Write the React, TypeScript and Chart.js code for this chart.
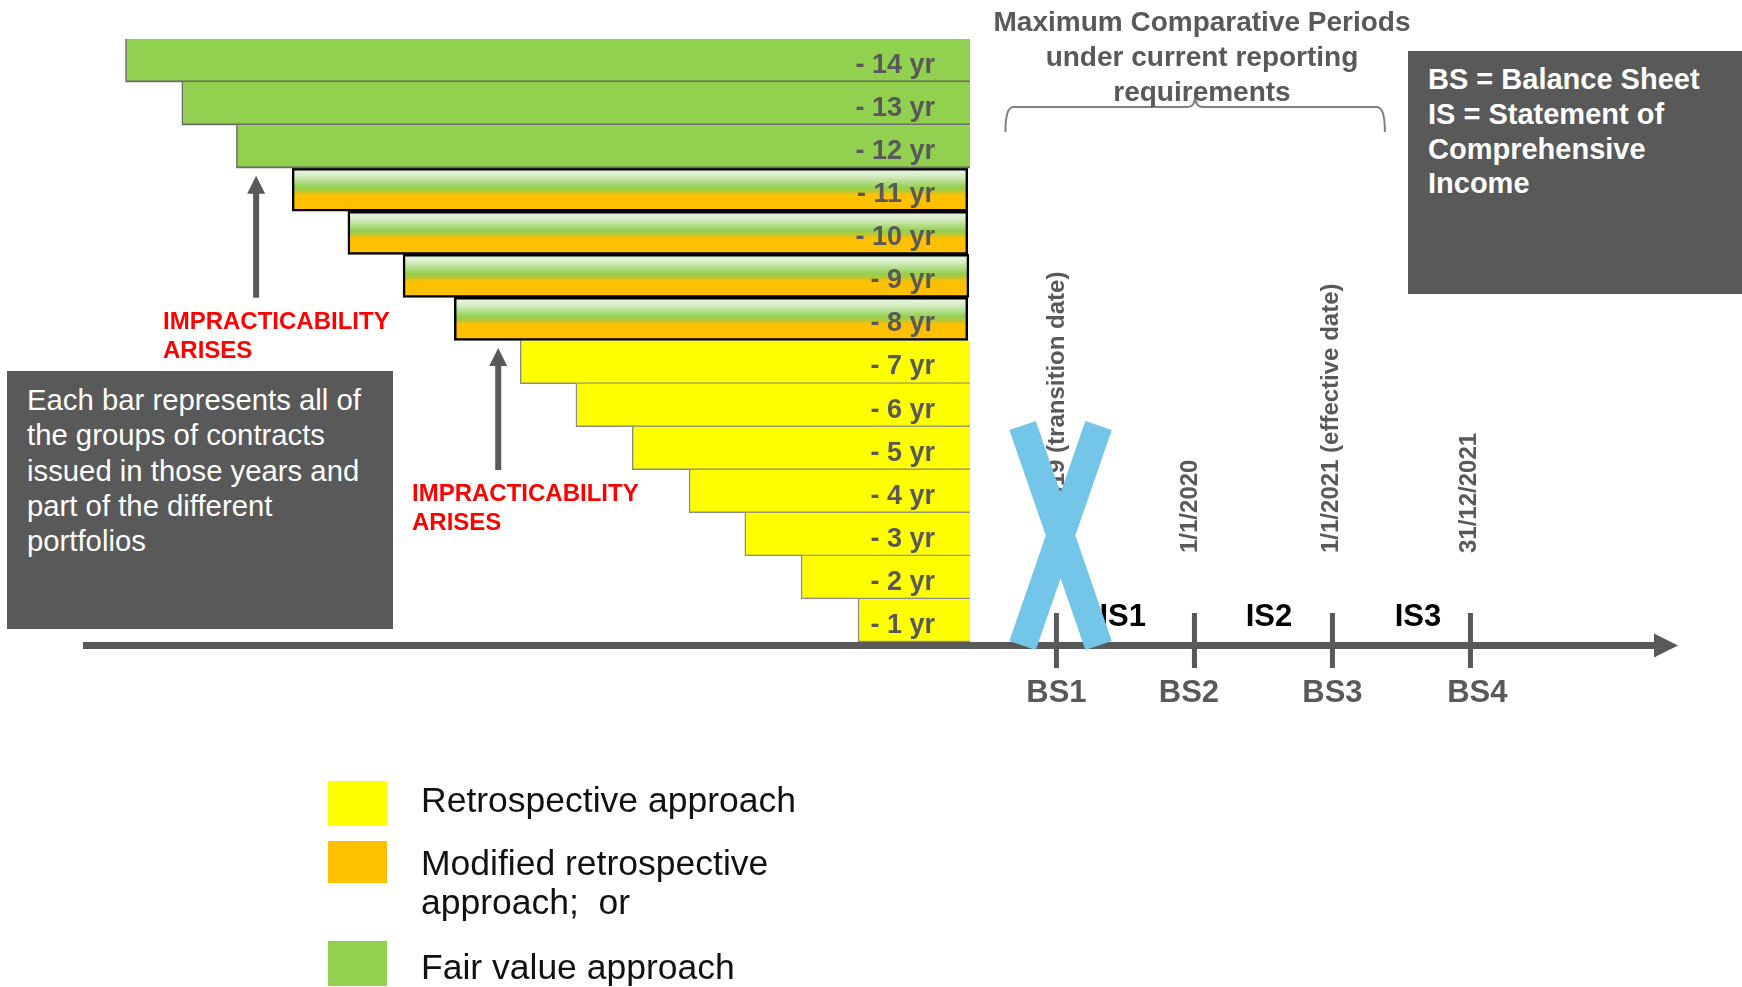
import React, { useEffect, useRef } from "react";
import { Chart, registerables } from "chart.js";

Chart.register(...registerables);

// ---------- data ----------
const categories = ["- 14 yr", "- 13 yr", "- 12 yr", "- 11 yr", "- 10 yr", "- 9 yr", "- 8 yr", "- 7 yr", "- 6 yr", "- 5 yr", "- 4 yr", "- 3 yr", "- 2 yr", "- 1 yr"];
const barStart = [-15.0, -14.0, -13.03, -12.04, -11.05, -10.07, -9.16, -7.99, -7.0, -6.0, -4.99, -4.0, -3.0, -1.99];
const barEnd = [0, 0, 0, -0.04, -0.04, -0.02, -0.04, 0, 0, 0, 0, 0, 0, 0];
const approach = ["fair", "fair", "fair", "mixed", "mixed", "mixed", "mixed", "retro", "retro", "retro", "retro", "retro", "retro", "retro"];

const legendLabels = ["Retrospective approach", "Modified retrospective\napproach;  or", "Fair value approach"];

const balanceSheets = ["BS1", "BS2", "BS3", "BS4"];
const balanceSheetAt = [0, 1, 2, 3];
const balanceSheetLabelAt = [0, 0.96, 2.0, 3.05];
const incomeStatements = ["IS1", "IS2", "IS3"];
const incomeStatementAt = [0.48, 1.54, 2.62];
const dateLabels = ["1/1/2019 (transition date)", "1/1/2020", "1/1/2021 (effective date)", "31/12/2021"];
const dateAt = [0.01, 0.97, 1.99, 2.99];
const crossedOutAt = 0.03;
const braceFrom = -0.37;
const braceTo = 2.38;

const impracticabilityAt = [-12.68, -8.38];
const impracticabilityBelowRow = [2, 6];

// ---------- style ----------
const FONT = '"Liberation Sans", Arial, Helvetica, sans-serif';
const GRAY = "#595959";
const YELLOW = "#ffff00";
const ORANGE = "#ffc000";
const GREEN = "#92d050";
const BLUE = "#73c6e7";

const mixedFill = (ctx: any) => {
  const chart = ctx.chart;
  const area = chart.chartArea;
  if (!area || ctx.type !== "data" || !chart.scales.y) return ORANGE;
  const y = chart.scales.y;
  const h = area.height / categories.length;
  const c = y.getPixelForValue(ctx.dataIndex);
  const g = chart.ctx.createLinearGradient(0, c - h / 2, 0, c + h / 2);
  g.addColorStop(0, "#eef8ec");
  g.addColorStop(0.18, "#d6edc6");
  g.addColorStop(0.45, GREEN);
  g.addColorStop(0.53, "#b8c838");
  g.addColorStop(0.63, ORANGE);
  g.addColorStop(1, ORANGE);
  return g;
};

const seriesData = (kind: string) =>
  categories.map((_, i) => (approach[i] === kind ? [barStart[i], barEnd[i]] : null));

const overlayPlugin = {
  id: "overlay",
  afterDatasetsDraw(chart: any) {
    const { ctx, chartArea } = chart;
    const x = chart.scales.x;
    const y = chart.scales.y;
    const xt = chart.scales.xt;
    const rowH = chartArea.height / categories.length;
    ctx.save();

    // bar labels
    ctx.font = `bold 27px ${FONT}`;
    ctx.fillStyle = GRAY;
    ctx.textAlign = "right";
    ctx.textBaseline = "middle";
    categories.forEach((c, i) => {
      ctx.fillText(c, x.getPixelForValue(-0.62), y.getPixelForValue(i) + 5);
    });

    // impracticability arrows
    ctx.fillStyle = GRAY;
    impracticabilityAt.forEach((v, k) => {
      const px = x.getPixelForValue(v);
      const tip = y.getPixelForValue(impracticabilityBelowRow[k]) + rowH / 2 + 7.5;
      const tail = tip + 122;
      ctx.fillRect(px - 3, tip + 16, 6, tail - tip - 16);
      ctx.beginPath();
      ctx.moveTo(px, tip);
      ctx.lineTo(px + 9, tip + 18);
      ctx.lineTo(px - 9, tip + 18);
      ctx.closePath();
      ctx.fill();
    });

    // brace
    const b0 = xt.getPixelForValue(braceFrom);
    const b1 = xt.getPixelForValue(braceTo);
    const bm = (b0 + b1) / 2;
    ctx.strokeStyle = "#7f7f7f";
    ctx.lineWidth = 2;
    ctx.beginPath();
    ctx.moveTo(b0, 132);
    ctx.quadraticCurveTo(b0, 107, b0 + 8, 107);
    ctx.lineTo(bm - 8, 107);
    ctx.quadraticCurveTo(bm, 107, bm, 96);
    ctx.quadraticCurveTo(bm, 107, bm + 8, 107);
    ctx.lineTo(b1 - 8, 107);
    ctx.quadraticCurveTo(b1, 107, b1, 132);
    ctx.stroke();

    // timeline axis
    const ty = chartArea.bottom + 3.5;
    const left = chartArea.left;
    const right = chartArea.right;
    ctx.fillStyle = GRAY;
    ctx.fillRect(left, ty - 3.5, right - 24 - left, 7);
    ctx.beginPath();
    ctx.moveTo(right - 24, ty - 12);
    ctx.lineTo(right, ty);
    ctx.lineTo(right - 24, ty + 12);
    ctx.closePath();
    ctx.fill();

    // ticks
    balanceSheetAt.forEach((v) => {
      const px = xt.getPixelForValue(v);
      ctx.fillRect(px - 2.5, ty - 32.5, 5, 55);
    });

    // rotated date labels
    ctx.font = `bold 24px ${FONT}`;
    ctx.fillStyle = GRAY;
    ctx.textAlign = "left";
    ctx.textBaseline = "middle";
    dateLabels.forEach((d, i) => {
      ctx.save();
      ctx.translate(xt.getPixelForValue(dateAt[i]), ty - 92.5);
      ctx.rotate(-Math.PI / 2);
      ctx.fillText(d, 0, 0);
      ctx.restore();
    });

    // income statement periods
    ctx.font = `bold 31px ${FONT}`;
    ctx.fillStyle = "#000000";
    ctx.textAlign = "center";
    incomeStatements.forEach((s, i) => {
      ctx.fillText(s, xt.getPixelForValue(incomeStatementAt[i]), ty - 28.5);
    });

    // balance sheets
    ctx.fillStyle = GRAY;
    ctx.font = `bold 31px ${FONT}`;
    balanceSheets.forEach((s, i) => {
      ctx.fillText(s, xt.getPixelForValue(balanceSheetLabelAt[i]), ty + 47.5);
    });

    // crossed-out transition date
    const cx = xt.getPixelForValue(crossedOutAt);
    const cy = ty - 110;
    ctx.strokeStyle = BLUE;
    ctx.lineWidth = 28;
    ctx.lineCap = "butt";
    ctx.beginPath();
    ctx.moveTo(cx - 38, cy - 110);
    ctx.lineTo(cx + 38, cy + 110);
    ctx.moveTo(cx + 38, cy - 110);
    ctx.lineTo(cx - 38, cy + 110);
    ctx.stroke();

    ctx.restore();
  },
};

export default function App() {
  const canvasRef = useRef<HTMLCanvasElement | null>(null);

  useEffect(() => {
    if (!canvasRef.current) return;
    const chart = new Chart(canvasRef.current, {
      type: "bar",
      data: {
        labels: categories,
        datasets: [
          {
            label: "Fair value approach",
            data: seriesData("fair") as any,
            backgroundColor: GREEN,
            borderColor: "#6b6b6b",
            borderWidth: { top: 0, right: 0, bottom: 2, left: 1.5 } as any,
            borderSkipped: false,
            grouped: false,
            barPercentage: 1,
            categoryPercentage: 1,
          },
          {
            label: "Modified retrospective approach; or Fair value approach",
            data: seriesData("mixed") as any,
            backgroundColor: mixedFill as any,
            borderColor: "#000000",
            borderWidth: 2.5,
            borderSkipped: false,
            grouped: false,
            barPercentage: 1,
            categoryPercentage: 1,
          },
          {
            label: "Retrospective approach",
            data: seriesData("retro") as any,
            backgroundColor: YELLOW,
            borderColor: "#8c8c8c",
            borderWidth: { top: 0, right: 0, bottom: 1.5, left: 1.5 } as any,
            borderSkipped: false,
            grouped: false,
            barPercentage: 1,
            categoryPercentage: 1,
          },
        ],
      },
      options: {
        indexAxis: "y",
        animation: false,
        responsive: true,
        maintainAspectRatio: false,
        layout: { padding: { left: 83, right: 64, top: 39, bottom: 345 } },
        scales: {
          x: { type: "linear", min: -15.755, max: 12.575, display: false },
          xt: { type: "linear", axis: "x", position: "bottom", min: -7.054, max: 4.504, display: false },
          y: { type: "category", offset: true, display: false },
        },
        plugins: {
          legend: { display: false },
          tooltip: { enabled: false },
        },
      },
      plugins: [overlayPlugin],
    });
    return () => chart.destroy();
  }, []);

  const legendColors = [YELLOW, ORANGE, GREEN];
  const legendSquareTop = [781, 841, 941];
  const legendTextTop = [781, 844, 948];

  const abs = (s: React.CSSProperties): React.CSSProperties => ({ position: "absolute", margin: 0, ...s });

  return (
    <div style={{ position: "absolute", left: 0, top: 0, width: 1742, height: 987, overflow: "hidden", background: "#ffffff", fontFamily: FONT }}>
      <canvas ref={canvasRef} style={{ position: "absolute", left: 0, top: 0, width: 1742, height: 987 }} />

      <div style={abs({ left: 950, top: 4, width: 504, textAlign: "center", font: `bold 28px/35px ${FONT}`, color: GRAY, whiteSpace: "nowrap" })}>
        Maximum Comparative Periods<br />under current reporting<br />requirements
      </div>

      <div style={abs({ left: 1408, top: 51, width: 334, height: 243, boxSizing: "border-box", padding: "11px 0 0 20px", background: GRAY, color: "#ffffff", font: `bold 29px/34.8px ${FONT}`, whiteSpace: "nowrap" })}>
        BS = Balance Sheet<br />IS = Statement of<br />Comprehensive<br />Income
      </div>

      <div style={abs({ left: 7, top: 371, width: 386, height: 258, boxSizing: "border-box", padding: "11px 0 0 20px", background: GRAY, color: "#ffffff", font: `29.3px/35.3px ${FONT}`, whiteSpace: "nowrap" })}>
        Each bar represents all of<br />the groups of contracts<br />issued in those years and<br />part of the different<br />portfolios
      </div>

      <div style={abs({ left: 163, top: 306, color: "#ff0000", font: `bold 24px/29px ${FONT}`, whiteSpace: "nowrap" })}>
        IMPRACTICABILITY<br />ARISES
      </div>
      <div style={abs({ left: 412, top: 478, color: "#ff0000", font: `bold 24px/29px ${FONT}`, whiteSpace: "nowrap" })}>
        IMPRACTICABILITY<br />ARISES
      </div>

      {legendLabels.map((label, i) => (
        <React.Fragment key={label}>
          <div style={abs({ left: 328, top: legendSquareTop[i], width: 59, height: i === 1 ? 42 : 45, background: legendColors[i] })} />
          <div style={abs({ left: 421, top: legendTextTop[i], color: "#111111", font: `35.5px/39px ${FONT}`, whiteSpace: "pre" })}>
            {label}
          </div>
        </React.Fragment>
      ))}
    </div>
  );
}
